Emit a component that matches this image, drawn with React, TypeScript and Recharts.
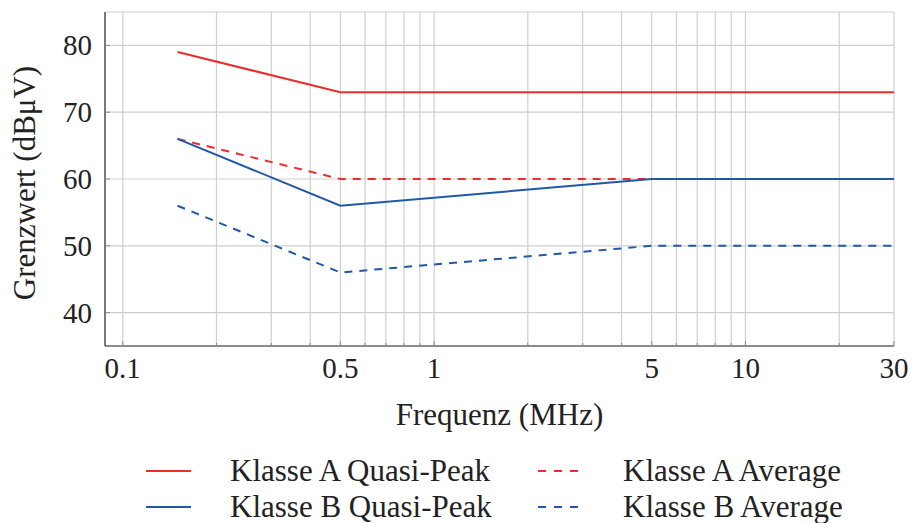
import React from "react";
import { LineChart, Line, XAxis, YAxis, CartesianGrid, Legend } from "recharts";

// EMV-Grenzwerte (leitungsgebundene Störungen), log-Frequenzachse.
const freqTicks = [
  0.1, 0.2, 0.3, 0.4, 0.5, 0.6, 0.7, 0.8, 0.9,
  1, 2, 3, 4, 5, 6, 7, 8, 9,
  10, 20, 30,
];
const freqLabels = [0.1, 0.5, 1, 5, 10, 30];
const limitTicks = [40, 50, 60, 70, 80];

const classAQpFreq = [0.15, 0.5, 30];
const classAQpLimit = [79, 73, 73];
const classAAvgFreq = [0.15, 0.5, 30];
const classAAvgLimit = [66, 60, 60];
const classBQpFreq = [0.15, 0.5, 5, 30];
const classBQpLimit = [66, 56, 60, 60];
const classBAvgFreq = [0.15, 0.5, 5, 30];
const classBAvgLimit = [56, 46, 50, 50];

const RED = "#ee2c2c";
const BLUE = "#2158a8";
const FONT = "Liberation Serif, Times New Roman, serif";
const DASH = "8 7";

const toPoints = (f: number[], v: number[]) => f.map((x, i) => ({ f: x, v: v[i] }));

const series = [
  { name: "Klasse A Quasi-Peak", color: RED, dash: undefined, data: toPoints(classAQpFreq, classAQpLimit) },
  { name: "Klasse A Average", color: RED, dash: DASH, data: toPoints(classAAvgFreq, classAAvgLimit) },
  { name: "Klasse B Quasi-Peak", color: BLUE, dash: undefined, data: toPoints(classBQpFreq, classBQpLimit) },
  { name: "Klasse B Average", color: BLUE, dash: DASH, data: toPoints(classBAvgFreq, classBAvgLimit) },
];

const TICK_MARGIN = 10;

// bottom axis: inner tick mark + label only for the major values
function BottomTick(props: any) {
  const { x, y, payload } = props;
  const axisY = y - TICK_MARGIN;
  const major = freqLabels.includes(payload.value);
  return (
    <g>
      <line x1={x} x2={x} y1={axisY} y2={axisY - (major ? 5 : 3)} stroke="#8a8a8a" />
      {major && (
        <text x={x} y={axisY + 32} textAnchor="middle" fontFamily={FONT} fontSize={29} fill="#222">
          {payload.value}
        </text>
      )}
    </g>
  );
}

function TopTick(props: any) {
  const { x, y, payload } = props;
  const axisY = y + TICK_MARGIN;
  const major = freqLabels.includes(payload.value);
  return <line x1={x} x2={x} y1={axisY} y2={axisY + (major ? 5 : 3)} stroke="#8a8a8a" />;
}

function LeftTick(props: any) {
  const { x, y, payload } = props;
  const axisX = x + TICK_MARGIN;
  return (
    <g>
      <line x1={axisX} x2={axisX + 5} y1={y} y2={y} stroke="#8a8a8a" />
      <text x={axisX - 13} y={y + 10} textAnchor="end" fontFamily={FONT} fontSize={29} fill="#222">
        {payload.value}
      </text>
    </g>
  );
}

function RightTick(props: any) {
  const { x, y } = props;
  const axisX = x - TICK_MARGIN;
  return <line x1={axisX} x2={axisX - 5} y1={y} y2={y} stroke="#8a8a8a" />;
}

function LegendBox() {
  const item = (s: (typeof series)[number], len: number, gap: number) => (
    <div key={s.name} style={{ display: "flex", alignItems: "center", height: 36 }}>
      <svg width={len} height={10} style={{ marginRight: gap, flex: "none" }}>
        <line x1={0} x2={len} y1={5} y2={5} stroke={s.color} strokeWidth={2} strokeDasharray={s.dash ? "8 8" : undefined} />
      </svg>
      <span style={{ fontFamily: FONT, fontSize: 31, color: "#222", whiteSpace: "nowrap", lineHeight: "36px" }}>{s.name}</span>
    </div>
  );
  return (
    <div style={{ display: "grid", gridTemplateColumns: "392px 360px", marginLeft: 146, marginTop: 12 }}>
      {item(series[0], 45, 39)}
      {item(series[1], 40, 45)}
      {item(series[2], 45, 39)}
      {item(series[3], 40, 45)}
    </div>
  );
}

export default function App() {
  return (
    <div style={{ position: "absolute", left: 0, top: 0, width: 912, height: 523, overflow: "hidden" }}>
      <LineChart width={912} height={523} margin={{ top: 12, right: 18, left: 0, bottom: 0 }}>
        <CartesianGrid stroke="#cfcfcf" strokeWidth={1.2} />
        <XAxis
          xAxisId={0}
          dataKey="f"
          type="number"
          scale="log"
          domain={[0.0877, 30]}
          ticks={freqTicks}
          interval={0}
          allowDataOverflow
          height={95}
          tickSize={0}
          tickMargin={TICK_MARGIN}
          tick={<BottomTick />}
          axisLine={{ stroke: "#333", strokeWidth: 1.2 }}
          label={{ value: "Frequenz (MHz)", position: "insideBottom", offset: 16, style: { fontFamily: FONT, fontSize: 31, fill: "#222" } }}
        />
        <XAxis
          xAxisId="top"
          orientation="top"
          dataKey="f"
          type="number"
          scale="log"
          domain={[0.0877, 30]}
          ticks={freqTicks}
          interval={0}
          allowDataOverflow
          height={0}
          tickSize={0}
          tickMargin={TICK_MARGIN}
          tick={<TopTick />}
          axisLine={{ stroke: "#333", strokeWidth: 1.2 }}
        />
        <YAxis
          yAxisId={0}
          type="number"
          domain={[35, 85]}
          ticks={limitTicks}
          width={105}
          tickSize={0}
          tickMargin={TICK_MARGIN}
          tick={<LeftTick />}
          axisLine={{ stroke: "#333", strokeWidth: 1.2 }}
          label={{ value: "Grenzwert (dBμV)", angle: -90, position: "insideLeft", offset: 24, dy: 4, style: { fontFamily: FONT, fontSize: 31, fill: "#222", textAnchor: "middle" } }}
        />
        <YAxis
          yAxisId="right"
          orientation="right"
          type="number"
          domain={[35, 85]}
          ticks={limitTicks}
          width={0}
          tickSize={0}
          tickMargin={TICK_MARGIN}
          tick={<RightTick />}
          axisLine={{ stroke: "#333", strokeWidth: 1.2 }}
        />
        <Legend verticalAlign="bottom" height={82} content={<LegendBox />} />
        {series.map((s) => (
          <Line
            key={s.name}
            data={s.data}
            dataKey="v"
            name={s.name}
            type="linear"
            stroke={s.color}
            strokeWidth={2}
            strokeDasharray={s.dash}
            dot={false}
            isAnimationActive={false}
          />
        ))}
      </LineChart>
    </div>
  );
}
